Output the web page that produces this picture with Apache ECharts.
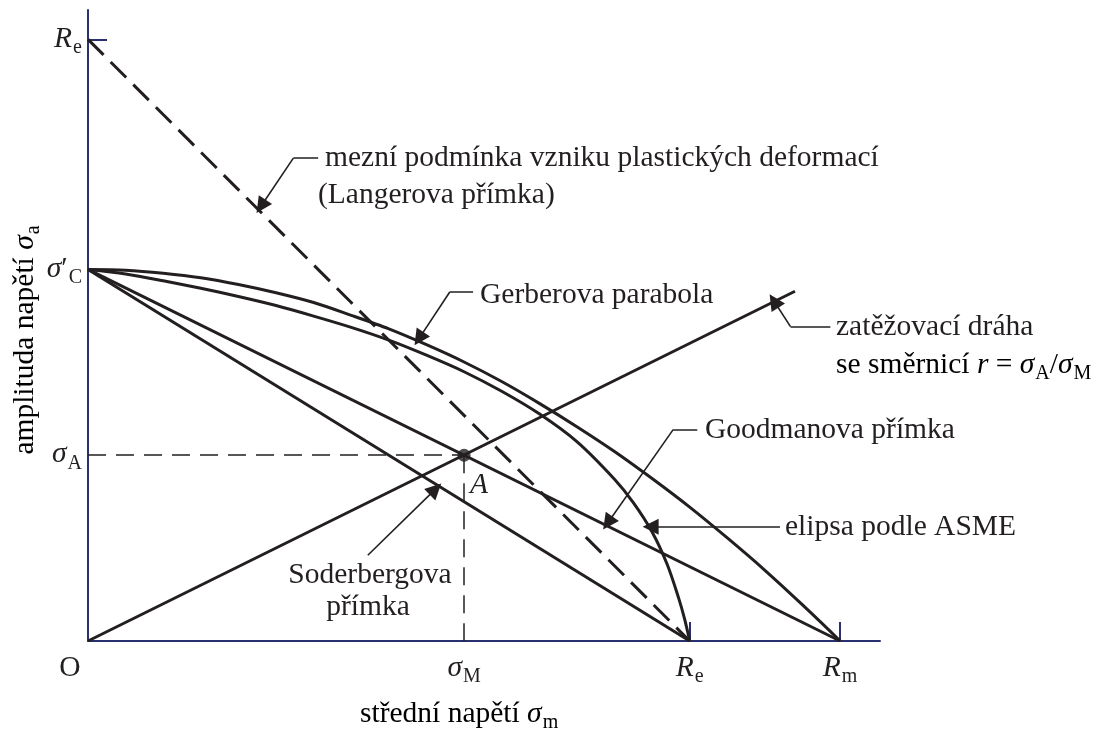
<!DOCTYPE html>
<html>
<head>
<meta charset="utf-8">
<script src="https://cdn.jsdelivr.net/npm/echarts@6/dist/echarts.min.js"></script>
<style>
  html, body { margin: 0; padding: 0; background: #ffffff; }
  #chart { width: 1098px; height: 729px; }
</style>
</head>
<body>
<div id="chart"></div>
<script>
// Haigh diagram: characteristic stresses (common stress units)
const SIGMA_C = 494;   // fatigue limit σ'C
const RE = 800;        // yield strength Re
const RM = 1000;       // ultimate strength Rm
const SIGMA_M = 500;   // mean stress of point A
const SIGMA_A = 247;   // amplitude of point A

// limit lines and curves [σm, σa]
const langerLine = [[0, RE], [RE, 0]];
const soderbergLine = [[0, SIGMA_C], [RE, 0]];
const goodmanLine = [[0, SIGMA_C], [RM, 0]];
const gerberCurve = [[0, 494], [50, 493], [100, 489], [150, 483], [200, 474], [250, 463], [300, 450],
                     [350, 433], [400, 415], [450, 394], [500, 371], [550, 345], [600, 316], [650, 285],
                     [700, 252], [750, 216], [800, 178], [850, 137], [900, 94], [950, 48], [1000, 0]];
const asmeCurve = [[0, 494], [50, 488], [100, 479], [150, 469], [200, 458], [250, 446], [300, 432],
                   [350, 417], [400, 400], [450, 380], [500, 358], [550, 332], [600, 302], [650, 265],
                   [700, 215], [725, 184], [750, 145], [770, 102], [785, 58], [793, 30], [800, 0]];
const loadPath = [[0, 0], [940, 465]];
const pointA = [[SIGMA_M, SIGMA_A]];
const guideA = [[[0, SIGMA_A], [SIGMA_M, SIGMA_A]], [[SIGMA_M, SIGMA_A], [SIGMA_M, 0]]];

// leader lines for the annotations (last point carries the arrowhead)
const leaders = [
  [[306, 642], [273, 642], [230, 578]],   // Langer
  [[512, 464], [481, 464], [440, 402]],   // Gerber
  [[987, 418], [934, 418], [912, 452]],   // load path
  [[810, 281], [778, 281], [691, 157]],   // Goodman
  [[920, 152], [748, 152]],               // ASME ellipse
  [[372, 114], [462, 202]]                // Soderberg
];

// axis marks
const xMarks = [0, SIGMA_M, RE, RM];
const yMarks = [SIGMA_A, SIGMA_C, RE];
const xTicks = [RE, RM];
const yTicks = [RE];

const FONT = "'Liberation Serif', 'Times New Roman', serif";
const FS = 29.5;
const INK = '#231f20';
const AXIS = '#29306f';

const rich = {
  t: { fontFamily: FONT, fontSize: FS, color: INK, lineHeight: 31, verticalAlign: 'top' },
  i: { fontFamily: FONT, fontSize: FS, color: INK, fontStyle: 'italic', lineHeight: 31, verticalAlign: 'top' },
  s: { fontFamily: FONT, fontSize: 20, color: INK, lineHeight: 20, padding: [14, 0, 0, 1], verticalAlign: 'top' },
  p: { fontFamily: FONT, fontSize: FS, color: INK, lineHeight: 31, verticalAlign: 'top' },
  o: { fontFamily: FONT, fontSize: FS, color: INK, lineHeight: 31, verticalAlign: 'top', padding: [0, 36, 0, 0] }
};

function xLabel(v) {
  if (v === 0) return '{o|O}';
  if (v === SIGMA_M) return '{i|σ}{s|M}';
  if (v === RE) return '{i|R}{s|e}';
  if (v === RM) return '{i|R}{s|m}';
  return '';
}
function yLabel(v) {
  if (v === SIGMA_A) return '{i|σ}{s|A}';
  if (v === SIGMA_C) return '{i|σ}{p|′}{s|C}';
  if (v === RE) return '{i|R}{s|e}';
  return '';
}

// split each leader into plain segments and a final arrowed segment
const leaderPlain = [];
const leaderArrow = [];
leaders.forEach(function (pts) {
  for (let k = 0; k < pts.length - 1; k++) {
    const seg = { coords: [pts[k], pts[k + 1]] };
    if (k === pts.length - 2) leaderArrow.push(seg); else leaderPlain.push(seg);
  }
});

const lineStyleSolid = { color: INK, width: 3 };
const label = (text, x, y, extra) => ({
  type: 'text', x: x, y: y,
  style: Object.assign({ text: text, fontFamily: FONT, fontSize: FS, fill: INK, verticalAlign: 'middle' }, extra || {})
});

const chart = echarts.init(document.getElementById('chart'), null, { renderer: 'canvas' });

const option = {
  backgroundColor: '#ffffff',
  animation: false,
  grid: { left: 88, right: 218, top: 10, bottom: 88 },
  xAxis: {
    type: 'value', min: 0, max: 1053,
    axisLine: { show: true, lineStyle: { color: AXIS, width: 2 } },
    axisTick: { show: true, inside: true, length: 19, customValues: xTicks, lineStyle: { color: AXIS, width: 2 } },
    axisLabel: { show: true, customValues: xMarks, formatter: xLabel, rich: rich, margin: 12 },
    splitLine: { show: false }
  },
  yAxis: {
    type: 'value', min: 0, max: 839,
    axisLine: { show: true, lineStyle: { color: AXIS, width: 2 } },
    axisTick: { show: true, inside: true, length: 19, customValues: yTicks, lineStyle: { color: AXIS, width: 2 } },
    axisLabel: { show: true, customValues: yMarks, formatter: yLabel, rich: rich, margin: 6 },
    splitLine: { show: false }
  },
  series: [
    { type: 'line', name: 'Langer', data: langerLine, symbol: 'none',
      lineStyle: { color: INK, width: 3, type: [22, 10] }, z: 3 },
    { type: 'line', name: 'Soderberg', data: soderbergLine, symbol: 'none', lineStyle: lineStyleSolid, z: 3 },
    { type: 'line', name: 'Goodman', data: goodmanLine, symbol: 'none', lineStyle: lineStyleSolid, z: 3 },
    { type: 'line', name: 'Gerber', data: gerberCurve, symbol: 'none', smooth: 0.3,
      lineStyle: lineStyleSolid, z: 3 },
    { type: 'line', name: 'ASME', data: asmeCurve, symbol: 'none', smooth: 0.3,
      lineStyle: lineStyleSolid, z: 3 },
    { type: 'line', name: 'load', data: loadPath, symbol: 'none', lineStyle: lineStyleSolid, z: 3 },
    { type: 'lines', name: 'guides', coordinateSystem: 'cartesian2d',
      data: guideA.map(c => ({ coords: c })),
      lineStyle: { color: INK, width: 1.5, type: [18, 10], opacity: 1 }, z: 2 },
    { type: 'lines', name: 'leaders', coordinateSystem: 'cartesian2d',
      symbol: 'none', data: leaderPlain,
      lineStyle: { color: INK, width: 1.6, opacity: 1 }, z: 4 },
    { type: 'lines', name: 'leader arrows', coordinateSystem: 'cartesian2d',
      symbol: ['none', 'triangle'], symbolSize: [8, 16], data: leaderArrow,
      lineStyle: { color: INK, width: 1.6, opacity: 1 }, itemStyle: { color: INK }, z: 4 },
    { type: 'scatter', name: 'A', data: pointA, symbol: 'circle', symbolSize: 13,
      itemStyle: { color: INK }, z: 5 }
  ],
  graphic: [
    label('mezní podmínka vzniku plastických deformací', 325, 158),
    label('(Langerova přímka)', 318, 195),
    label('Gerberova parabola', 480, 295),
    label('zatěžovací dráha', 836, 327),
    { type: 'text', x: 836, y: 350, style: { text: '{t|se směrnicí }{i|r}{t| = }{i|σ}{s|A}{t|/}{i|σ}{s|M}',
      rich: rich, verticalAlign: 'top' } },
    label('Goodmanova přímka', 705, 430),
    label('elipsa podle ASME', 785, 527),
    label('Soderbergova', 370, 575, { align: 'center' }),
    label('přímka', 368, 607, { align: 'center' }),
    label('A', 470, 485, { fontStyle: 'italic' }),
    { type: 'text', x: 360, y: 699, style: { text: '{t|střední napětí }{i|σ}{s|m}',
      rich: rich, verticalAlign: 'top' } },
    { type: 'text', x: 10, y: 340, rotation: Math.PI / 2, style: { text: '{t|amplituda napětí }{i|σ}{s|a}',
      rich: rich, align: 'center', verticalAlign: 'top' } }
  ]
};

chart.setOption(option);
</script>
</body>
</html>
